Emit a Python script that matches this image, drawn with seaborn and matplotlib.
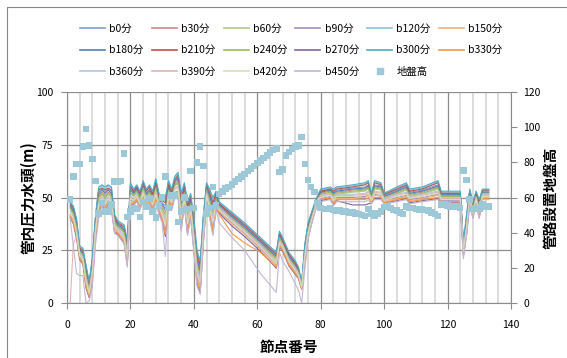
import pandas as pd
import seaborn as sns
import matplotlib.pyplot as plt
from matplotlib.lines import Line2D
from matplotlib.patches import Rectangle

# 節点番号 (折れ線の頂点)
nodes = list(range(1, 49)) + [52, 56, 61, 66, 67, 68, 70, 72, 73, 74,
                               75, 76, 77, 78, 79, 80, 83, 84, 85, 90,
                               94, 95, 96, 97, 99, 100, 104, 107, 108, 112,
                               117, 118, 121, 124, 125, 126, 127, 128, 129, 130,
                               131, 133]

b0 = [46.5, 44, 38, 25.5, 24.5, 15.5, 8.5, 19.5, 39.5, 52.5,
      54, 52.5, 54, 53, 40, 37.5, 36.5, 35, 27.5, 55,
      52.5, 54.5, 51, 56, 52, 54, 51, 57, 50, 47.5,
      46, 56, 52, 58, 59.5, 48.5, 55, 45, 49.5, 37,
      21.5, 17, 39, 55, 51, 46.5, 51, 47, 41.5, 36.5,
      29.5, 22.5, 32.5, 29.5, 22.5, 18.5, 16, 9, 26, 36.5,
      41.5, 46, 50, 53, 54, 52.5, 53.5, 54.5, 55, 56,
      51, 56, 55.5, 51, 53.5, 55.5, 52.5, 53.5, 56, 52,
      52, 52, 27.5, 40, 52.5, 46.5, 52, 47, 53, 53]
b30 = [45.5, 43, 36.5, 24.5, 23.5, 14, 7.5, 18, 38, 50.5,
       52.5, 51, 52.5, 51.5, 39, 36.5, 35.5, 34, 25.5, 53.5,
       51.5, 53.5, 50, 55, 51, 53, 49.5, 55.5, 48.5, 46,
       43.5, 54.5, 50.5, 56.5, 58, 46, 53.5, 42.5, 48, 34.5,
       19.5, 14.5, 37.5, 54, 49.5, 44, 50, 46, 40.5, 35.5,
       28.5, 21.5, 31.5, 28.5, 21.5, 17.5, 15, 8.5, 25, 35.5,
       40.5, 45.5, 49.5, 52, 53, 51.5, 52.5, 53.5, 54, 55,
       50.5, 55, 54.5, 50.5, 52.5, 54.5, 51.5, 52.5, 55, 51,
       51, 51, 26.5, 38.5, 51.5, 45.5, 51, 46, 52.5, 52.5]
b60 = [44.5, 42, 35.5, 23.5, 22.5, 12.5, 6.5, 16.5, 36.5, 49,
       51.5, 49.5, 51.5, 50, 38, 35.5, 34.5, 33, 24, 52,
       50.5, 52.5, 49, 54, 50, 52, 48.5, 54, 47.5, 44.5,
       40.5, 53, 49.5, 55.5, 56.5, 43.5, 52, 40.5, 46.5, 32.5,
       17, 12.5, 35.5, 53, 47.5, 41.5, 49, 45, 39.5, 34.5,
       27.5, 20.5, 30.5, 27.5, 20.5, 16.5, 14, 8, 24, 34.5,
       39.5, 44.5, 49, 51, 52, 50.5, 51.5, 52.5, 53, 54,
       49.5, 54, 53.5, 49.5, 51.5, 53.5, 50.5, 51.5, 54, 50,
       50, 50, 25.5, 37.5, 50.5, 44.5, 50, 45, 51.5, 51.5]
b90 = [42, 39.5, 32.5, 22, 20, 9, 4, 13, 33, 45.5,
       48.5, 46, 48.5, 47, 35.5, 34, 32, 30.5, 20.5, 49,
       48, 50, 46.5, 51.5, 47.5, 49.5, 45.5, 51, 44.5, 41,
       35.5, 50, 46.5, 52.5, 53, 39, 49, 36.5, 43, 28.5,
       12.5, 8.5, 31.5, 50.5, 43.5, 37, 46.5, 43.5, 38, 33,
       26, 18, 28, 26, 19, 15, 12.5, 7, 21.5, 32,
       38, 43.5, 48, 49.5, 50.5, 48, 50, 50, 50.5, 51.5,
       48.5, 51.5, 51, 48.5, 50, 51, 49, 50, 51.5, 48.5,
       48.5, 48.5, 24, 34.5, 49, 42, 48.5, 42.5, 50.5, 50.5]
b120 = [47.5, 45.5, 39.5, 26.5, 25.5, 17, 9.5, 21, 41, 54,
        55.5, 54, 55.5, 54.5, 41.5, 38.5, 37.5, 36.5, 29, 56.5,
        53.5, 55.5, 52.5, 57.5, 53.5, 55.5, 52.5, 58.5, 51.5, 49,
        48.5, 57.5, 53.5, 59.5, 61, 51, 56.5, 47, 51, 39,
        24, 19, 41, 56.5, 53, 49, 52.5, 47.5, 42.5, 37.5,
        30.5, 23.5, 33.5, 30.5, 23.5, 19.5, 16.5, 9.5, 27.5, 37.5,
        42, 46.5, 50.5, 53.5, 54.5, 53.5, 54.5, 55.5, 56.5, 57.5,
        51.5, 57.5, 56.5, 51.5, 54.5, 56.5, 53.5, 54.5, 57.5, 52.5,
        52.5, 52.5, 28.5, 41.5, 53.5, 47.5, 52.5, 48.5, 53.5, 53.5]
b150 = [41.5, 39, 32, 21.5, 19.5, 8.5, 3.5, 12.5, 32.5, 44.5,
        48, 45.5, 48, 46, 35, 33.5, 31.5, 30, 19.5, 48,
        47.5, 49.5, 46, 51, 47, 49, 45, 50, 44, 40.5,
        34, 49, 46, 52, 52.5, 37.5, 48, 35, 42.5, 27,
        11.5, 7, 31, 50, 43, 35.5, 46, 43, 37.5, 32.5,
        25.5, 17.5, 27.5, 25.5, 18.5, 14.5, 12, 7, 21, 31.5,
        37.5, 43, 48, 49, 50, 47.5, 49.5, 49.5, 50, 51,
        48, 51, 50.5, 48, 49.5, 50.5, 48.5, 49.5, 51, 48,
        48, 48, 23.5, 34, 48.5, 41.5, 48, 42, 50, 50]
b180 = [46, 43.5, 37.5, 25, 24, 15, 8, 19, 39, 51.5,
        53.5, 52, 53.5, 52, 39.5, 37, 36, 34.5, 26.5, 54,
        52, 54, 50.5, 55.5, 51.5, 53.5, 50.5, 56, 49.5, 47,
        44.5, 55, 51.5, 57.5, 59, 47, 54, 43.5, 49, 35.5,
        20.5, 15.5, 38.5, 54.5, 50.5, 45, 50.5, 46.5, 41, 36,
        29, 22, 32, 29, 22, 18, 15.5, 9, 25.5, 36,
        41, 45.5, 50, 52.5, 53.5, 52, 53, 54, 54.5, 55.5,
        50.5, 55.5, 55, 50.5, 53, 55, 52, 53, 55.5, 51.5,
        51.5, 51.5, 27, 39.5, 52, 46, 51.5, 46.5, 52.5, 52.5]
b210 = [47, 45, 38.5, 26, 25, 16.5, 9, 20.5, 40.5, 53.5,
        54.5, 53.5, 54.5, 53.5, 41, 38, 37, 36, 28.5, 55.5,
        53, 55, 52, 57, 53, 55, 51.5, 57.5, 50.5, 48.5,
        47.5, 56.5, 52.5, 58.5, 60.5, 49.5, 55.5, 46, 50.5, 38,
        22.5, 18, 40, 56, 52, 47.5, 52, 47, 42, 37,
        30, 23, 33, 30, 23, 19, 16, 9.5, 27, 37,
        41.5, 46.5, 50.5, 53, 54, 53, 54, 55, 56, 57,
        51.5, 57, 56, 51.5, 54, 56, 53, 54, 57, 52,
        52, 52, 28, 40.5, 53, 47, 52, 48, 53.5, 53.5]
b240 = [45, 42.5, 36, 24, 23, 13, 7, 17, 37, 50,
        52, 50, 52, 50.5, 38.5, 36, 35, 33.5, 25, 52.5,
        51, 53, 49.5, 54.5, 50.5, 52.5, 49, 54.5, 48, 45,
        42, 53.5, 50, 56, 57, 45, 52.5, 41.5, 47, 33.5,
        18, 13.5, 36.5, 53.5, 48.5, 43, 49.5, 45.5, 40, 35,
        28, 21, 31, 28, 21, 17, 14.5, 8.5, 24.5, 35,
        40, 45, 49.5, 51.5, 52.5, 51, 52, 53, 53.5, 54.5,
        50, 54.5, 54, 50, 52, 54, 51, 52, 54.5, 50.5,
        50.5, 50.5, 26, 38, 51, 45, 50.5, 45.5, 52, 52]
b270 = [40.5, 37.5, 30.5, 20.5, 18.5, 7, 2.5, 11, 31, 43,
        46.5, 44, 46.5, 44.5, 33.5, 32.5, 30.5, 28.5, 18, 46.5,
        46.5, 48.5, 44.5, 49.5, 45.5, 47.5, 43.5, 48.5, 42.5, 39,
        31.5, 47.5, 44.5, 50.5, 51, 35, 46.5, 33, 41, 25,
        9, 5, 29, 48.5, 41, 33, 44.5, 42.5, 36.5, 31.5,
        24.5, 16.5, 26.5, 24.5, 17.5, 13.5, 11.5, 6.5, 19.5, 30.5,
        37, 42.5, 47.5, 48.5, 49.5, 46.5, 48.5, 46.5, 46.5, 47,
        47.5, 49.5, 49.5, 47.5, 48.5, 49.5, 47.5, 48.5, 49.5, 47.5,
        47.5, 47.5, 22.5, 32.5, 47.5, 40.5, 47.5, 40.5, 49.5, 49.5]
b300 = [48, 46, 40, 27, 26, 18, 10, 22, 42, 55,
        56, 55, 56, 55, 42, 39, 38, 37, 30, 57,
        54, 56, 53, 58, 54, 56, 53, 59, 52, 50,
        50, 58, 54, 60, 62, 52, 57, 48, 52, 40,
        25, 20, 42, 57, 54, 50, 53, 48, 43, 38,
        31, 24, 34, 31, 24, 20, 17, 10, 28, 38,
        42.5, 47, 51, 54, 55, 54, 55, 56, 57, 58,
        52, 58, 57, 52, 55, 57, 54, 55, 58, 53,
        53, 53, 29, 42, 54, 48, 53, 49, 54, 54]
b330 = [41, 38, 31.5, 21, 19, 7.5, 3, 11.5, 31.5, 43.5,
        47.5, 44.5, 47.5, 45.5, 34, 33, 31, 29, 18.5, 47.5,
        47, 49, 45, 50, 46, 48, 44.5, 49.5, 43.5, 39.5,
        32.5, 48.5, 45.5, 51.5, 51.5, 36.5, 47.5, 34, 41.5, 26,
        10.5, 6, 30, 49, 42, 34.5, 45, 42, 33, 28.5,
        24, 17, 27, 25, 18, 14, 12, 6.5, 20, 31,
        37.5, 42.5, 47.5, 49, 50, 47, 49, 49, 49, 50,
        47.5, 50, 50, 47.5, 49, 50, 48, 49, 50, 48,
        48, 48, 23, 33.5, 48, 41, 48, 41, 49.5, 49.5]
b360 = [43.5, 41, 34.5, 23.5, 21.5, 11.5, 5.5, 15.5, 35.5, 48,
        50.5, 48.5, 50.5, 49, 37, 35.5, 33.5, 32, 23, 51,
        49.5, 51.5, 48, 53, 49, 51, 47.5, 53, 46.5, 43.5,
        39.5, 52, 48.5, 54.5, 55.5, 42.5, 51, 39.5, 45.5, 31.5,
        16, 11.5, 34.5, 52, 46.5, 40.5, 48, 45, 39.5, 34.5,
        27.5, 19.5, 29.5, 27.5, 20.5, 16.5, 14, 8, 23, 33.5,
        39.5, 44.5, 49, 51, 52, 49.5, 51.5, 51.5, 52, 53,
        49.5, 53, 52.5, 49.5, 51.5, 52.5, 50.5, 51.5, 53, 50,
        50, 50, 25.5, 36.5, 50.5, 43.5, 50, 44, 51.5, 51.5]
b390 = [0, 28, 32, 23, 21, 11, 5, 15, 35, 47,
        50, 48, 50, 48.5, 36.5, 35, 33, 31.5, 22, 50.5,
        49, 51, 47.5, 52.5, 48.5, 50.5, 47, 52.5, 46, 43,
        38, 51.5, 48, 54, 55, 41, 50.5, 38.5, 45, 30.5,
        15, 10.5, 33.5, 51.5, 45.5, 39, 47.5, 44.5, 39, 34,
        27, 19, 29, 27, 20, 16, 13.5, 7.5, 22.5, 33,
        39, 44, 48.5, 50.5, 51.5, 49, 51, 51, 51.5, 52.5,
        49, 52.5, 52, 49, 51, 52, 50, 51, 52.5, 49.5,
        49.5, 49.5, 25, 36, 50, 43, 49.5, 43.5, 51, 51]
b420 = [42.5, 40, 33.5, 22.5, 20.5, 10, 4.5, 14, 34, 46.5,
        49.5, 47, 49.5, 47.5, 36, 34.5, 32.5, 31, 21.5, 49.5,
        48.5, 50.5, 47, 52, 48, 50, 46.5, 51.5, 45.5, 42,
        36.5, 50.5, 47.5, 53.5, 54, 40, 49.5, 37.5, 44, 29.5,
        13.5, 9.5, 32.5, 51, 44.5, 38, 47, 44, 38.5, 33.5,
        26.5, 18.5, 28.5, 26.5, 19.5, 15.5, 13, 7.5, 22, 32.5,
        38.5, 43.5, 48.5, 50, 51, 48.5, 50.5, 50.5, 51, 52,
        48.5, 52, 51.5, 48.5, 50.5, 51.5, 49.5, 50.5, 52, 49,
        49, 49, 24.5, 35.5, 49.5, 42.5, 49, 43, 50.5, 50.5]
b450 = [40, 27, 14, 13, 13, 0, 1, 8, 28, 40,
        46, 43, 46, 44, 33, 32, 30, 28, 17, 46,
        46, 48, 44, 49, 45, 47, 43, 48, 42, 38,
        22, 47, 44, 50, 50, 34, 46, 32, 40, 24,
        8, 4, 28, 48, 40, 32, 44, 38, 31, 25,
        14, 5, 24, 20, 15, 9, 6, 0, 16, 30,
        36.5, 42, 47, 48, 49, 46, 48, 48, 48, 49,
        47, 49, 49, 47, 48, 49, 47, 48, 49, 47,
        47, 47, 21, 32, 47, 40, 47, 40, 49, 49]

# 地盤高 (各節点)
ground_nodes = list(range(1, 134))
ground = [59, 72, 79, 79, 89, 99, 89.5, 82, 69.5, 51,
          57, 52, 52, 56, 69, 69, 69.5, 85, 49, 52,
          54, 53.5, 49, 57.5, 55, 59.5, 52, 48.5, 55.5, 60,
          72, 54, 61, 61, 46, 52, 60, 53.5, 75, 54,
          80, 89, 78, 51, 54, 66, 55.5, 62, 63.5, 65,
          66, 67.5, 69, 70.5, 72, 73.5, 75, 76.5, 78, 79.5,
          81, 82.5, 84, 85.5, 87, 88, 74.5, 76, 84, 86,
          87.5, 89, 89.5, 94.5, 79, 70, 66, 63, 57, 54,
          53.5, 53.5, 54, 53, 52.5, 52.5, 52, 52, 51.5, 51.5,
          51, 50.5, 50, 49.5, 53.5, 51, 49.5, 51, 52, 54.5,
          55, 54, 53, 52.5, 51.5, 50.5, 55, 54, 54, 53.5,
          53, 53.5, 53, 52.5, 51.5, 50.5, 49.5, 56, 56, 55.5,
          55, 55, 54.5, 54, 75.5, 70, 59, 53.5, 54, 53.5,
          56, 54.5, 55]

names = ['b0分', 'b30分', 'b60分', 'b90分', 'b120分', 'b150分',
         'b180分', 'b210分', 'b240分', 'b270分', 'b300分', 'b330分',
         'b360分', 'b390分', 'b420分', 'b450分']
values = [b0, b30, b60, b90, b120, b150, b180, b210, b240, b270,
          b300, b330, b360, b390, b420, b450]
colors = ['#7F9ECC', '#CD8987', '#AFC98B', '#A18FBE', '#86C4D7', '#F5B07C',
          '#4F81BD', '#C0504D', '#9BBB59', '#8064A2', '#4BACC6', '#F79646',
          '#B3C6E2', '#E3B3B2', '#D2E0B8', '#C3B6D6']
ground_color = '#9DC8D8'

rows = []
for name, vals in zip(names, values):
    for n, v in zip(nodes, vals):
        rows.append((name, n, v))
df = pd.DataFrame(rows, columns=['series', 'node', 'head'])

plt.rcParams['font.family'] = ['Noto Sans CJK JP', 'DejaVu Sans']
grid_c = '#8C8C8C'

fig = plt.figure(figsize=(5.67, 3.58), dpi=100)
ax = fig.add_axes([0.1182, 0.1536, 0.783, 0.5894])
sns.lineplot(data=df, x='node', y='head', hue='series', hue_order=names,
             palette=dict(zip(names, colors)), lw=0.8, estimator=None,
             sort=False, legend=False, ax=ax)
ax.set_xlim(0, 140)
ax.set_ylim(0, 100)
ax.set_xticks(range(0, 141, 20))
ax.set_xticks(range(0, 141, 4), minor=True)
ax.set_yticks(range(0, 101, 25))
ax.grid(which='minor', axis='x', color='#D9D9D9', lw=1.3)
ax.grid(which='major', axis='x', color=grid_c, lw=0.9)
ax.grid(which='major', axis='y', color=grid_c, lw=0.9)
ax.set_axisbelow(True)
for s in ['top', 'right']:
    ax.spines[s].set_visible(False)
for s in ['left', 'bottom']:
    ax.spines[s].set_color(grid_c)
ax.tick_params(axis='x', which='major', length=4, color=grid_c, pad=8, labelsize=7.5)
ax.tick_params(axis='x', which='minor', length=0)
ax.tick_params(axis='y', length=4, color=grid_c, pad=6, labelsize=7.5)

ax2 = ax.twinx()
sns.scatterplot(x=ground_nodes, y=ground, marker='s', s=22, color=ground_color,
                edgecolor='none', linewidth=0, ax=ax2, zorder=3)
ax2.set_ylim(0, 120)
ax2.set_yticks(range(0, 121, 20))
for s in ['top', 'left', 'bottom']:
    ax2.spines[s].set_visible(False)
ax2.spines['right'].set_color(grid_c)
ax2.tick_params(axis='y', length=4, color=grid_c, pad=5, labelsize=7.5)

ax.set_xlabel('節点番号', fontsize=10.5, fontweight='bold')
ax.xaxis.set_label_coords(0.5, -0.17)
ax.set_ylabel('管内圧力水頭(m)', fontsize=10.5, fontweight='bold', va='center')
ax.yaxis.set_label_coords(-0.0856, 0.5)
ax2.set_ylabel('管路設置地盤高', fontsize=10.5, fontweight='bold', rotation=90, va='center')
ax2.yaxis.set_label_coords(1.088, 0.5)

# 凡例 (行方向に並ぶよう列順に並べ替え)
handles = {n: Line2D([], [], color=c, lw=1.2) for n, c in zip(names, colors)}
handles['地盤高'] = Line2D([], [], marker='s', ls='none', color=ground_color, markersize=5)
order = ['b0分', 'b180分', 'b360分', 'b30分', 'b210分', 'b390分',
         'b60分', 'b240分', 'b420分', 'b90分', 'b270分', 'b450分',
         'b120分', 'b300分', '地盤高', 'b150分', 'b330分']
fig.legend([handles[k] for k in order], order, ncol=6, loc='upper left',
           bbox_to_anchor=(80 / 567, 1 - 23.5 / 358), frameon=False, fontsize=7.5,
           handlelength=2.4, handletextpad=0.4, columnspacing=0.8,
           labelspacing=1.12, borderpad=0, borderaxespad=0)

fig.add_artist(Rectangle((7 / 567, -0.5), 1.5, 0.5 + 1 - 7 / 358,
                         transform=fig.transFigure, fill=False,
                         ec='#868686', lw=0.8))

fig.savefig('out.png', dpi=100)
